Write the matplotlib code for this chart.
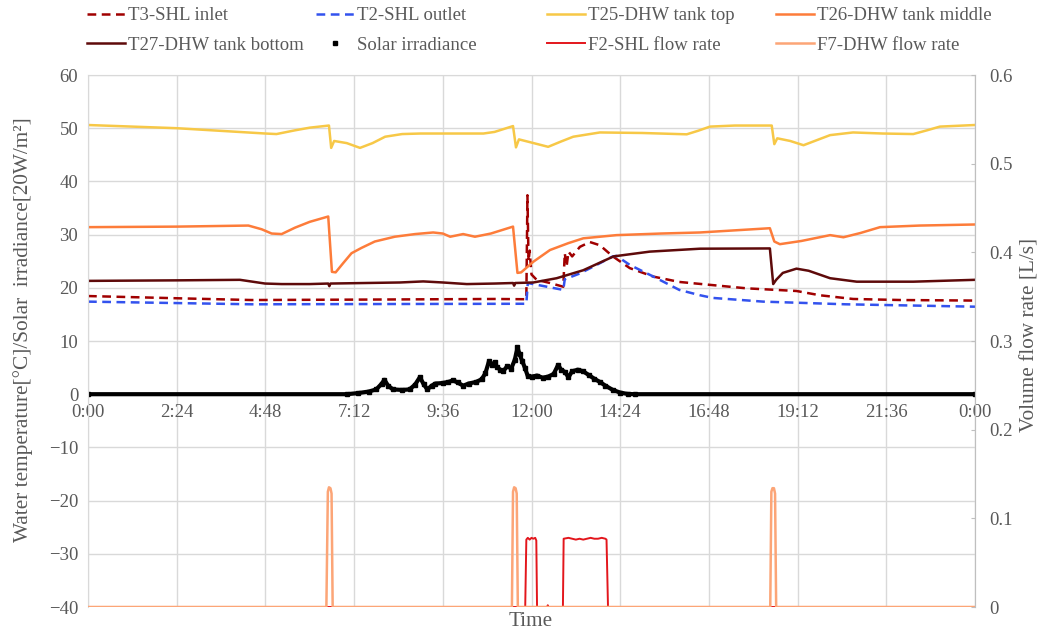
import matplotlib
matplotlib.use("Agg")
import matplotlib.pyplot as plt
from matplotlib.lines import Line2D

plt.rcParams['font.family'] = ['Liberation Serif', 'DejaVu Serif']
plt.rcParams['text.color'] = '#595959'

# time axis in hours, temperatures in degC, irradiance in 20 W/m2, flow in L/s
t3_time = [0, 2.6, 4.43, 8.0, 11.0, 11.86, 11.89, 11.92, 11.95, 12.0, 12.14, 12.5, 12.86,
           12.9, 12.95, 13.0, 13.1, 13.31, 13.58, 13.85, 14.2, 14.66, 15.3, 16.0, 17.82,
           19.17, 19.8, 20.7, 22.0, 24]
t3_inlet = [18.45, 18.0, 17.7, 17.8, 17.9, 17.85, 37.4, 25.0, 27.0, 22.5, 21.5, 20.9, 20.2,
            26.5, 24.0, 26.8, 25.9, 27.7, 28.6, 28.0, 25.9, 23.7, 22.1, 21.1, 19.9,
            19.4, 18.6, 17.9, 17.7, 17.6]

t2_time = [0, 4.43, 8.0, 11.86, 11.9, 12.86, 12.9, 13.31, 13.76, 14.2, 14.3, 14.66, 15.3,
           16.0, 16.56, 16.9, 18.27, 20.5, 24]
t2_outlet = [17.4, 16.9, 16.95, 17.0, 20.9, 19.6, 21.6, 22.7, 24.3, 25.9, 26.0, 24.3, 22.1,
             19.6, 18.6, 18.1, 17.4, 16.9, 16.45]

t25_time = [0, 2.4, 4.8, 5.1, 5.6, 6.0, 6.52, 6.58, 6.66, 7.0, 7.36, 7.7, 8.04, 8.5, 9.0,
            10.0, 10.7, 11.0, 11.5, 11.58, 11.66, 12.0, 12.45, 12.8, 13.13, 13.85, 15.0,
            16.2, 16.5, 16.83, 17.5, 18.5, 18.57, 18.65, 19.0, 19.36, 19.7, 20.08, 20.7,
            21.5, 22.33, 22.7, 23.05, 24]
t25_top = [50.6, 50.0, 49.0, 48.9, 49.6, 50.1, 50.5, 46.3, 47.6, 47.2, 46.3, 47.2, 48.4, 48.9,
           49.0, 49.0, 49.0, 49.3, 50.4, 46.4, 47.9, 47.3, 46.5, 47.5, 48.4, 49.2, 49.1,
           48.85, 49.5, 50.3, 50.5, 50.5, 47.0, 48.1, 47.6, 46.8, 47.7, 48.7, 49.2,
           49.0, 48.9, 49.6, 50.3, 50.6]

t26_time = [0, 2.4, 4.34, 4.7, 4.97, 5.24, 5.6, 6.0, 6.5, 6.6, 6.7, 6.9, 7.13, 7.4, 7.76,
            8.3, 8.85, 9.34, 9.6, 9.8, 10.15, 10.47, 10.9, 11.5, 11.62, 11.72, 12.05, 12.5,
            13.0, 13.4, 14.3, 15.5, 16.56, 18.45, 18.57, 18.72, 19.3, 20.08, 20.44, 20.9,
            21.43, 22.5, 24]
t26_middle = [31.4, 31.5, 31.7, 31.0, 30.2, 30.1, 31.3, 32.4, 33.4, 23.0, 22.9, 24.6, 26.5,
              27.5, 28.7, 29.6, 30.1, 30.4, 30.2, 29.6, 30.1, 29.6, 30.2, 31.5, 22.8, 22.9,
              24.9, 27.1, 28.4, 29.3, 29.9, 30.2, 30.4, 31.2, 28.7, 28.2, 28.8, 29.9, 29.5,
              30.3, 31.4, 31.7, 31.9]

t27_time = [0, 2.4, 4.11, 4.5, 4.79, 5.24, 6.0, 6.5, 6.53, 6.56, 7.5, 8.44, 9.07, 9.6, 10.25,
            11.0, 11.5, 11.53, 11.56, 12.05, 12.68, 13.4, 14.22, 15.2, 16.56, 18.45, 18.54,
            18.62, 18.8, 19.17, 19.5, 20.08, 20.8, 22.33, 24]
t27_bottom = [21.3, 21.4, 21.5, 21.1, 20.8, 20.7, 20.7, 20.8, 20.3, 20.8, 20.9, 21.0, 21.2,
              21.0, 20.7, 20.8, 20.9, 20.4, 20.9, 21.0, 21.8, 23.3, 25.9, 26.8, 27.35, 27.4,
              20.7, 21.5, 22.8, 23.6, 23.2, 21.8, 21.15, 21.15, 21.5]

solar_time = [0, 7.0, 7.3, 7.6, 7.8, 7.95, 8.02, 8.12, 8.25, 8.5, 8.7, 8.85, 8.98, 9.08, 9.18,
              9.3, 9.4, 9.6, 9.75, 9.88, 10.0, 10.15, 10.3, 10.5, 10.65, 10.75, 10.85, 10.92,
              11.0, 11.06, 11.15, 11.24, 11.35, 11.45, 11.55, 11.62, 11.68, 11.75, 11.82,
              11.9, 12.0, 12.15, 12.3, 12.45, 12.6, 12.72, 12.8, 12.9, 13.0, 13.1, 13.25,
              13.4, 13.55, 13.7, 13.85, 14.0, 14.2, 14.4, 14.6, 14.8, 24]
solar_irr = [0, 0, 0.2, 0.5, 0.9, 2.0, 2.7, 1.6, 0.9, 0.8, 0.9, 1.8, 3.2, 1.9, 0.9,
             1.6, 2.0, 2.1, 2.3, 2.6, 2.2, 1.6, 2.0, 2.3, 2.8, 3.9, 6.2, 5.5,
             6.0, 5.2, 4.6, 4.4, 5.3, 4.8, 6.5, 8.8, 7.5, 6.2, 5.0,
             3.4, 3.3, 3.5, 3.1, 3.3, 3.8, 5.5, 4.6, 4.2, 3.2, 4.3, 4.6,
             4.3, 3.6, 2.9, 2.3, 1.6, 0.8, 0.3, 0.05, 0, 0]

f2_time = [0, 11.83, 11.86, 11.9, 11.95, 12.0, 12.05, 12.1, 12.13, 12.15, 12.43, 12.44, 12.45,
           12.85, 12.87, 13.0, 13.1, 13.2, 13.3, 13.4, 13.5, 13.6, 13.7, 13.8, 13.9, 14.0,
           14.03, 14.07, 24]
f2_flow = [0, 0, 0.076, 0.078, 0.076, 0.078, 0.077, 0.078, 0.075, 0, 0, 0.002, 0,
           0, 0.077, 0.078, 0.077, 0.076, 0.077, 0.076, 0.077, 0.078, 0.077, 0.077, 0.078,
           0.077, 0.076, 0, 0]

f7_time = [0, 6.45, 6.49, 6.52, 6.56, 6.59, 6.62, 11.47, 11.5, 11.53, 11.57, 11.6, 11.63,
           18.46, 18.49, 18.52, 18.56, 18.59, 18.62, 24]
f7_flow = [0, 0, 0.13, 0.135, 0.134, 0.128, 0, 0, 0.13, 0.135, 0.134, 0.128, 0,
           0, 0.13, 0.134, 0.134, 0.128, 0, 0]

x_ticks = [0, 2.4, 4.8, 7.2, 9.6, 12, 14.4, 16.8, 19.2, 21.6, 24]
x_labels = ['0:00', '2:24', '4:48', '7:12', '9:36', '12:00', '14:24', '16:48', '19:12', '21:36', '0:00']

fs = 13.5
fs_title = 15.3
grey = '#595959'
gridc = '#d9d9d9'
dash = (0, (3.5, 2.2))

fig = plt.figure(figsize=(10.47, 6.35), dpi=100)
ax = fig.add_axes([88/1047, 28/635, 887/1047, 532/635])
ax2 = ax.twinx()

l3, = ax.plot(t3_time, t3_inlet, color='#a00000', lw=1.8, ls=dash)
l2, = ax.plot(t2_time, t2_outlet, color='#3352ee', lw=1.8, ls=dash)
l25, = ax.plot(t25_time, t25_top, color='#f7c847', lw=1.8)
l26, = ax.plot(t26_time, t26_middle, color='#fd7c3a', lw=1.8)
l27, = ax.plot(t27_time, t27_bottom, color='#5e0a0a', lw=1.8)
ax.plot(solar_time, solar_irr, color='black', lw=3, marker='s', ms=3)

lf2, = ax2.plot(f2_time, f2_flow, color='#e3161c', lw=1.4)
lf7, = ax2.plot(f7_time, f7_flow, color='#fca577', lw=1.8)

ax.set_xlim(0, 24)
ax.set_ylim(-40, 60)
ax.set_yticks(range(-40, 61, 10))
ax.set_xticks(x_ticks)
ax.set_xticklabels(x_labels)
ax.grid(True, color=gridc, lw=1)
ax.set_axisbelow(True)
ax.spines['bottom'].set_position(('data', 0))
ax.spines['bottom'].set_visible(False)
for s in ['left', 'right', 'top']:
    ax.spines[s].set_color(gridc)
ax.tick_params(axis='x', length=0, pad=7, labelsize=fs, labelcolor=grey)
ax.tick_params(axis='y', length=0, pad=7, labelsize=fs, labelcolor=grey)

ax2.set_ylim(0, 0.6)
ax2.set_yticks([0, 0.1, 0.2, 0.3, 0.4, 0.5, 0.6])
ax2.set_yticklabels(['0', '0.1', '0.2', '0.3', '0.4', '0.5', '0.6'])
ax2.tick_params(axis='y', direction='in', length=3, color='#bfbfbf', pad=10,
                labelsize=fs, labelcolor=grey)
for s in ['left', 'top', 'bottom']:
    ax2.spines[s].set_visible(False)
ax2.spines['right'].set_color('#bfbfbf')

fig.text(23/1047, 1 - 330/635, 'Water temperature[°C]/Solar  irradiance[20W/m²]',
         rotation=90, ha='center', va='center', fontsize=fs_title, color=grey)
fig.text(1030/1047, 1 - 335/635, 'Volume flow rate [L/s]',
         rotation=90, ha='center', va='center', fontsize=fs_title, color=grey)
fig.text(531/1047, 1 - 622/635, 'Time', ha='center', va='center', fontsize=fs_title, color=grey)

solar_h = Line2D([], [], ls='none', marker='s', ms=3, color='black')
cols = [([l3, l27], ['T3-SHL inlet', 'T27-DHW tank bottom'], 87),
        ([l2, solar_h], ['T2-SHL outlet', 'Solar irradiance'], 316),
        ([l25, lf2], ['T25-DHW tank top', 'F2-SHL flow rate'], 547),
        ([l26, lf7], ['T26-DHW tank middle', 'F7-DHW flow rate'], 776)]
for hs, labs, xp in cols:
    fig.legend(hs, labs, loc='upper left', bbox_to_anchor=(xp/1047, 1 - 7/635),
               frameon=False, fontsize=fs, handlelength=2.0, handletextpad=0.2,
               borderpad=0, borderaxespad=0, labelspacing=0.66, labelcolor=grey)

fig.savefig('out.png', dpi=100)
